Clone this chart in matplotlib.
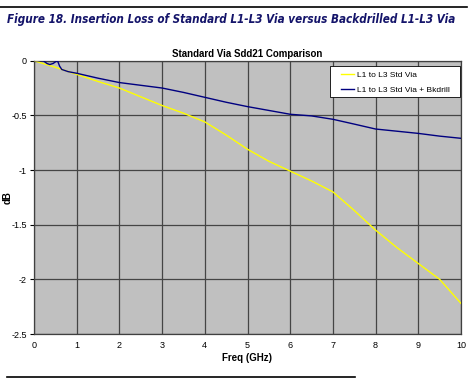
import matplotlib
matplotlib.use("Agg")
import matplotlib.pyplot as plt
from matplotlib.lines import Line2D
from matplotlib.patches import Rectangle

freq_std = [0, 0.5, 1, 1.5, 2, 2.5, 3, 3.5, 4, 4.5, 5, 5.5, 6, 6.5, 7, 7.5, 8, 8.5, 9, 9.5, 10]
loss_std = [0, -0.06, -0.125, -0.19, -0.25, -0.33, -0.41, -0.48, -0.56, -0.68, -0.81, -0.92,
            -1.01, -1.1, -1.2, -1.37, -1.55, -1.71, -1.855, -2.0, -2.22]

freq_bk = [0, 0.22, 0.3, 0.37, 0.45, 0.52, 0.55, 0.6, 0.65, 0.8, 1, 1.5, 2, 2.5, 3, 3.5, 4, 4.5,
           5, 5.5, 6, 6.5, 7, 7.5, 8, 8.5, 9, 9.5, 10]
loss_bk = [0, 0, -0.025, -0.035, -0.025, -0.005, 0, -0.05, -0.08, -0.1, -0.115, -0.16, -0.2,
           -0.225, -0.25, -0.29, -0.335, -0.38, -0.42, -0.455, -0.49, -0.505, -0.536, -0.58,
           -0.625, -0.645, -0.665, -0.69, -0.71]

x_ticks = list(range(0, 11))
y_ticks = [0, -0.5, -1, -1.5, -2, -2.5]
y_tick_labels = ["0", "-0.5", "-1", "-1.5", "-2", "-2.5"]

fig_title = "Figure 18. Insertion Loss of Standard L1-L3 Via versus Backdrilled L1-L3 Via"
chart_title = "Standard Via Sdd21 Comparison"
label_std = "L1 to L3 Std Via"
label_bk = "L1 to L3 Std Via + Bkdrill"

plt.rcParams['font.family'] = ['Liberation Sans', 'DejaVu Sans']

W, H = 471, 385
fig = plt.figure(figsize=(W/100, H/100), dpi=100)
ax = fig.add_axes([34/W, 1 - 334/H, (461-34)/W, (334-60.7)/H])
ax.set_facecolor('#c0c0c0')

ax.plot(freq_std, loss_std, color='#ffff00', lw=1.0, label=label_std, zorder=3)
ax.plot(freq_bk, loss_bk, color='#000080', lw=1.0, label=label_bk, zorder=3)

ax.set_xlim(0, 10)
ax.set_ylim(-2.5, 0)
ax.set_xticks(x_ticks)
ax.set_yticks(y_ticks)
ax.set_yticklabels(y_tick_labels)
ax.grid(True, color='#454545', lw=0.9)
ax.set_axisbelow(True)
ax.tick_params(axis='both', labelsize=6.5, colors='black', length=3, width=0.8, pad=2)
ax.tick_params(axis='x', length=0, pad=5)
for s in ax.spines.values():
    s.set_color('#404040')
    s.set_linewidth(0.9)

ax.set_title(chart_title, fontsize=7, fontweight='bold', pad=3)
ax.set_xlabel("Freq (GHz)", fontsize=7, fontweight='bold', labelpad=2)
ax.set_ylabel("dB", fontsize=7, fontweight='bold')
ax.yaxis.set_label_coords((13 - 34) / 427, 0.5)

# legend frame (white box) and legend entries
ax.add_patch(Rectangle((330/W, 1 - 97/H), (460-330)/W, (97-66)/H, transform=fig.transFigure,
                       facecolor='white', edgecolor='black', lw=0.6, zorder=4, clip_on=False))
leg = ax.legend(loc='upper left', bbox_to_anchor=(341/W, 1 - 71.5/H), bbox_transform=fig.transFigure,
                fontsize=6, frameon=False, handlelength=1.6, borderpad=0, borderaxespad=0,
                labelspacing=0.8, handletextpad=0.3)
leg.set_zorder(5)

t = fig.text(7/W, 1 - 20/H, fig_title, fontsize=11, fontweight='bold', fontstyle='italic',
             color='#14146a', va='center', ha='left',
             family=['DejaVu Sans'], fontstretch='condensed')
fig.canvas.draw()
bb = t.get_window_extent()
t.set_fontsize(11 * 448 / bb.width)

fig.add_artist(Line2D([0/W, 467/W], [1 - 7/H, 1 - 7/H], color='black', lw=1.2))
fig.add_artist(Line2D([7/W, 355/W], [1 - 377/H, 1 - 377/H], color='black', lw=1.2))

fig.savefig("out.png", dpi=100)
